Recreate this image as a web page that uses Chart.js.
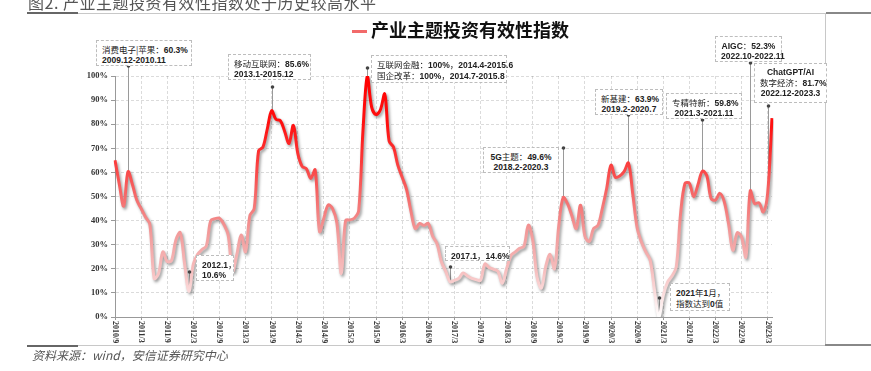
<!DOCTYPE html>
<html>
<head>
<meta charset="utf-8">
<script src="https://cdn.jsdelivr.net/npm/chart.js@4.4.0/dist/chart.umd.min.js"></script>
<style>
  html, body { margin: 0; padding: 0; background: #fff; }
  body { width: 871px; height: 371px; position: relative; overflow: hidden; font-family: "Noto Sans CJK SC", sans-serif; }
  #wrap { position: absolute; left: 0; top: 0; width: 871px; height: 371px; }
  .title { position: absolute; left: 28px; top: -6px; font-size: 16px; line-height: 16px; color: #555; letter-spacing: 0.5px; white-space: nowrap; }
  .rule { position: absolute; height: 1px; background: #c8c8c8; }
  .rule.dark { height: 2px; background: #666; }
  .vrule { position: absolute; width: 1px; background: #c8c8c8; }
  .legend { position: absolute; left: 352px; top: 17px; font-size: 18px; line-height: 24px; font-weight: bold; color: #111; white-space: nowrap; }
  .legend .mark { display: inline-block; width: 15px; height: 3px; background: #f26a6a; vertical-align: middle; margin-right: 4px; position: relative; top: -1px; }
  .source { position: absolute; left: 32px; top: 347px; font-size: 12px; line-height: 16px; color: #555; font-style: italic; white-space: nowrap; }
  .note { position: absolute; box-sizing: border-box; background: #fff; border: 1px dashed #bdbdbd; padding: 3px 5px; font: bold 8.5px/10px "Liberation Sans", "Noto Sans CJK SC", sans-serif; color: #222; white-space: nowrap; z-index: 2; }
  .note .cn { font-family: "Noto Sans CJK SC", sans-serif; font-weight: normal; }
</style>
</head>
<body>
<div id="wrap"><canvas id="chart"></canvas></div>
<div class="title">图2. 产业主题投资有效性指数处于历史较高水平</div>
<div class="rule" style="left:27px; top:13px; width:844px;"></div>
<div class="rule dark" style="left:27px; top:12px; width:51px;"></div>
<div class="rule dark" style="left:826px; top:12px; width:45px; background:#888;"></div>
<div class="vrule" style="left:825px; top:13px; height:333px;"></div>
<div class="rule" style="left:27px; top:345px; width:844px;"></div>
<div class="rule dark" style="left:27px; top:345px; width:51px;"></div>
<div class="rule dark" style="left:825px; top:344px; width:46px; background:#888;"></div>
<div class="legend"><span class="mark"></span><span id="legendText"></span></div>
<div class="source">资料来源：wind，安信证券研究中心</div>
<div id="notes"></div>
<script>
// SERIES
const seriesName = "产业主题投资有效性指数";
const startYear = 2010, startMonth = 9;
const tickLabels = ["2010/9", "2011/3", "2011/9", "2012/3", "2012/9", "2013/3", "2013/9", "2014/3", "2014/9",
  "2015/3", "2015/9", "2016/3", "2016/9", "2017/3", "2017/9", "2018/3", "2018/9", "2019/3", "2019/9",
  "2020/3", "2020/9", "2021/3", "2021/9", "2022/3", "2022/9", "2023/3"];
// monthly values, 2010/9 .. 2023/4 (%)
const indexValues = [
  65, 55, 46, 60.3, 55, 48.5, 45, 41.5, 38.5, 16, 18, 27,
  23, 23.5, 32, 35, 22, 10.6, 22, 26, 28, 29.5, 40, 40.8,
  41, 38.5, 34, 19, 26, 34, 27, 42, 45, 69, 70.5, 78,
  85.6, 82, 81.5, 77, 72, 79.5, 68, 62.5, 61.5, 57.5, 61, 35.5,
  41, 46.5, 45, 39, 18, 40, 40.3, 41, 44, 77.6, 100, 87,
  84, 86, 92.5, 73, 70.5, 63, 58, 53, 44, 36.7, 38.8, 38,
  38.8, 33.5, 30.5, 23, 19, 14.6, 15.2, 16, 18.3, 17, 16, 15.5,
  15.2, 22, 20.5, 19.8, 19, 14, 20, 25.5, 27, 28.5, 29.4, 38.1,
  32, 16.6, 12, 21, 26, 20, 38, 49.6, 47, 42, 36.7, 46.4,
  33.5, 31.4, 36.7, 38, 45, 53.3, 63, 58, 58.5, 60.3, 63.9, 51,
  37, 31, 27, 23.6, 11, 0, 9, 14.5, 17, 20.8, 43, 55.4,
  55.5, 49.9, 55, 60.5, 58.7, 49.2, 48.5, 51.3, 48, 38.8, 27.7, 34.9,
  33.2, 24.9, 52.3, 47, 47.4, 43.6, 51.3, 82.5
];

// ANNOTATIONS (at = month index of the marked point)
const notes = [
  { at: 3, lines: ["消费电子|苹果：60.3%", "2009.12-2010.11"], box: [96, 40, 96, 26], align: "left", dotY: 66 },
  { at: 36, lines: ["移动互联网：85.6%", "2013.1-2015.12"], box: [228, 54, 83, 26], align: "left", dotY: 87 },
  { at: 58, lines: ["互联网金融：100%，2014.4-2015.6", "国企改革：100%，2014.7-2015.8"], box: [371, 55, 136, 28], align: "left", dotY: 68 },
  { at: 17, lines: ["2012.1，", "10.6%"], box: [196, 255, 38, 26], align: "left", dotY: 272 },
  { at: 77, lines: ["2017.1，14.6%"], box: [445, 246, 65, 15], align: "left", dotY: 267 },
  { at: 103, lines: ["5G主题：49.6%", "2018.2-2020.3"], box: [483, 147, 76, 26], align: "center", dotY: 148 },
  { at: 118, lines: ["新基建：63.9%", "2019.2-2020.7"], box: [595, 89, 68, 26], align: "center", dotY: 115 },
  { at: 135, lines: ["专精特新：59.8%", "2021.3-2021.11"], box: [666, 93, 76, 26], align: "center", dotY: 120 },
  { at: 146, lines: ["AIGC：52.3%", "2022.10-2022.11"], box: [715, 36, 67, 26], align: "center", dotY: 63 },
  { at: 150, lines: ["ChatGPT/AI", "数字经济：81.7%", "2022.12-2023.3"], box: [754, 63, 73, 40], align: "center", dotY: 106 },
  { at: 125, lines: ["2021年1月，", "指数达到0值"], box: [670, 283, 60, 28], align: "left", dotY: 298 }
];

const months = [];
for (let i = 0; i < indexValues.length; i++) {
  const t = startMonth - 1 + i;
  months.push(`${startYear + Math.floor(t / 12)}/${(t % 12) + 1}`);
}

document.getElementById("legendText").textContent = seriesName;

// note boxes
const notesEl = document.getElementById("notes");
notes.forEach((n) => {
  const d = document.createElement("div");
  d.className = "note";
  const [l, t, w, h] = n.box;
  d.style.cssText = `left:${l}px;top:${t}px;width:${w}px;height:${h}px;text-align:${n.align};`;
  d.innerHTML = n.lines
    .map((s) => s.replace(/([\u3000-\u9fff\uff00-\uffef|]+)/g, '<span class="cn">$1</span>'))
    .join("<br>");
  notesEl.appendChild(d);
});

// PLUGINS
const lineShadow = {
  id: "lineShadow",
  beforeDatasetDraw(chart) {
    const c = chart.ctx;
    c.save();
    c.shadowColor = "rgba(0,0,0,0.4)";
    c.shadowBlur = 3;
    c.shadowOffsetX = 1.5;
    c.shadowOffsetY = 2;
  },
  afterDatasetDraw(chart) {
    chart.ctx.restore();
  },
};

const leaders = {
  id: "leaders",
  beforeDatasetsDraw(chart) {
    const { ctx, scales: { x, y } } = chart;
    ctx.save();
    notes.forEach((n) => {
      const px = Math.round(x.getPixelForValue(n.at)) + 0.5;
      const py = y.getPixelForValue(indexValues[n.at]);
      ctx.strokeStyle = "#9a9a9a";
      ctx.lineWidth = 1;
      ctx.beginPath();
      ctx.moveTo(px, n.dotY);
      ctx.lineTo(px, py);
      ctx.stroke();
    });
    ctx.restore();
  },
  afterDraw(chart) {
    const { ctx, scales: { x } } = chart;
    ctx.save();
    ctx.fillStyle = "#444";
    notes.forEach((n) => {
      const px = Math.round(x.getPixelForValue(n.at)) + 0.5;
      ctx.beginPath();
      ctx.arc(px, n.dotY, 1.8, 0, Math.PI * 2);
      ctx.fill();
    });
    ctx.restore();
  },
};

// x labels read top-to-bottom
const xLabels = {
  id: "xLabels",
  afterDraw(chart) {
    const { ctx, scales: { x } } = chart;
    ctx.save();
    ctx.font = 'bold 8px "Liberation Serif"';
    ctx.fillStyle = "#333";
    ctx.textAlign = "left";
    ctx.textBaseline = "middle";
    months.forEach((m, i) => {
      if (!tickLabels.includes(m)) return;
      ctx.save();
      ctx.translate(x.getPixelForValue(i), x.top + 4);
      ctx.rotate(Math.PI / 2);
      ctx.fillText(m, 0, 0);
      ctx.restore();
    });
    ctx.restore();
  },
};

function lineGradient(context) {
  const { ctx, chartArea } = context.chart;
  if (!chartArea) return "#f00";
  const g = ctx.createLinearGradient(0, chartArea.bottom, 0, chartArea.top);
  g.addColorStop(0, "#ffffff");
  g.addColorStop(0.1, "#fbdcdc");
  g.addColorStop(0.2, "#f6bcbc");
  g.addColorStop(0.35, "#f29a9a");
  g.addColorStop(0.5, "#f56b6b");
  g.addColorStop(0.65, "#fb3a3a");
  g.addColorStop(0.8, "#ff1010");
  g.addColorStop(1, "#ff0000");
  return g;
}

const gridColor = "rgba(0,0,0,0.14)";

new Chart(document.getElementById("chart"), {
  type: "line",
  data: {
    labels: months,
    datasets: [
      {
        label: seriesName,
        data: indexValues,
        borderColor: lineGradient,
        borderWidth: 3,
        pointRadius: 0,
        tension: 0.35,
        fill: false,
      },
    ],
  },
  options: {
    responsive: true,
    maintainAspectRatio: false,
    animation: false,
    devicePixelRatio: 1,
    layout: { padding: { left: 85, top: 76, right: 99, bottom: 30 } },
    plugins: { legend: { display: false }, tooltip: { enabled: false } },
    scales: {
      x: {
        ticks: { display: false, autoSkip: false },
        grid: {
          color: (c) => (c.index % 6 === 0 ? gridColor : "transparent"),
          tickColor: (c) => (c.index % 6 === 0 ? "#999" : "transparent"),
          tickLength: 3,
        },
        border: { color: "#999", dash: [3, 2] },
        afterFit(scale) {
          scale.height = 24;
        },
      },
      y: {
        min: 0,
        max: 100,
        ticks: {
          stepSize: 10,
          padding: 3,
          color: "#333",
          font: { family: "Liberation Serif", size: 8.5, weight: "bold" },
          callback: (v) => v + "%",
        },
        grid: { color: gridColor, tickColor: "#999", tickLength: 4 },
        border: { color: "#999", dash: [3, 2] },
        afterFit(scale) {
          scale.width = 30;
        },
      },
    },
  },
  plugins: [leaders, lineShadow, xLabels],
});
</script>
</body>
</html>
